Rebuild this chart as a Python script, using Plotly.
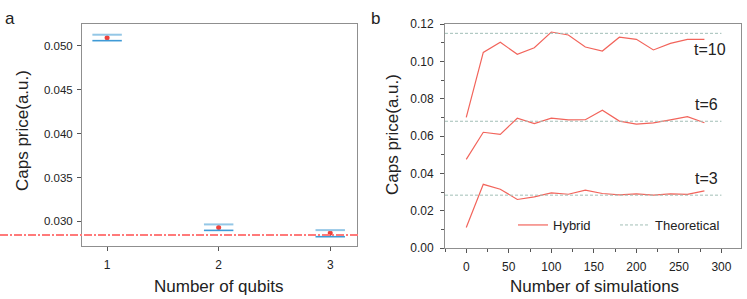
import plotly.graph_objects as go

# ---------- Panel a data ----------
qubits = [1, 2, 3]
a_mean = [0.05094, 0.02932, 0.02867]
a_upper = [0.05128, 0.02966, 0.02901]
a_lower = [0.05060, 0.02898, 0.02826]
a_theory = 0.02844
a_yticks = [0.030, 0.035, 0.040, 0.045, 0.050]

# ---------- Panel b data ----------
sims = [0, 20, 40, 60, 80, 100, 120, 140, 160, 180, 200, 220, 240, 260, 280]
hyb_t10 = [0.0700, 0.1048, 0.1102, 0.1038, 0.1073, 0.1157, 0.1141, 0.1077,
           0.1055, 0.1129, 0.1118, 0.1061, 0.1096, 0.1118, 0.1118]
hyb_t6 = [0.0475, 0.0620, 0.0609, 0.0695, 0.0666, 0.0696, 0.0686, 0.0687,
          0.0738, 0.0680, 0.0664, 0.0670, 0.0686, 0.0704, 0.0671]
hyb_t3 = [0.0110, 0.0341, 0.0315, 0.0260, 0.0274, 0.0295, 0.0288, 0.0310,
          0.0292, 0.0285, 0.0290, 0.0283, 0.0290, 0.0287, 0.0306]
theory_b = {"t=10": 0.1150, "t=6": 0.0679, "t=3": 0.0283}
theory_x = [-25, 300]

W, H = 747, 299
FONT = "Liberation Sans, Arial, sans-serif"

def px_x(p):
    return p / W

def px_y(p):
    return (H - p) / H

fig = go.Figure()

# ---- Panel a ----
cap_half = 0.132
ux, uy, lx, ly = [], [], [], []
for q, u, l in zip(qubits, a_upper, a_lower):
    ux += [q - cap_half, q + cap_half, None]
    uy += [u, u, None]
    lx += [q - cap_half, q + cap_half, None]
    ly += [l, l, None]

fig.add_trace(go.Scatter(
    x=qubits, y=a_mean, mode="markers",
    marker=dict(color="#f0413a", size=5),
    error_y=dict(type="data", symmetric=False,
                 array=[u - m for u, m in zip(a_upper, a_mean)],
                 arrayminus=[m - l for m, l in zip(a_mean, a_lower)],
                 width=0, thickness=1, color="#5a7086"),
    xaxis="x", yaxis="y", showlegend=False))
fig.add_trace(go.Scatter(x=ux, y=uy, mode="lines",
                         line=dict(color="#94c7e6", width=2),
                         xaxis="x", yaxis="y", showlegend=False))
fig.add_trace(go.Scatter(x=lx, y=ly, mode="lines",
                         line=dict(color="#3f9ad6", width=1.6),
                         xaxis="x", yaxis="y", showlegend=False))

# ---- Panel b ----
first = True
for name, ser in [("t=10", hyb_t10), ("t=6", hyb_t6), ("t=3", hyb_t3)]:
    fig.add_trace(go.Scatter(x=sims, y=ser, mode="lines", name="Hybrid",
                             legendgroup="h", showlegend=first, legend="legend",
                             line=dict(color="#f2645b", width=1.2),
                             xaxis="x2", yaxis="y2"))
    first = False
first = True
for name, val in theory_b.items():
    fig.add_trace(go.Scatter(x=theory_x, y=[val, val], mode="lines",
                             name="Theoretical", legendgroup="t",
                             showlegend=first, legend="legend2",
                             line=dict(color="#a2bfb7", width=1, dash="3px,2px"),
                             xaxis="x2", yaxis="y2"))
    first = False

axis_common = dict(showline=True, linecolor="#8f8f8f", linewidth=1,
                   mirror=True, ticks="outside", ticklen=4, tickcolor="#555555",
                   showgrid=False, zeroline=False, automargin=False,
                   tickfont=dict(family=FONT, size=12, color="#222222"))

legend_common = dict(orientation="h", y=px_y(225), xanchor="left",
                     yanchor="middle", bgcolor="rgba(0,0,0,0)",
                     font=dict(family=FONT, size=13, color="#222222"))

fig.update_layout(
    width=W, height=H,
    margin=dict(l=0, r=0, t=0, b=0, autoexpand=False),
    paper_bgcolor="white", plot_bgcolor="white",
    font=dict(family=FONT, color="#222222"),
    xaxis=dict(domain=[px_x(82), px_x(357)], range=[0.775, 3.24],
               tickvals=qubits, ticktext=[str(q) for q in qubits],
               anchor="y", ticklabelstandoff=4, **axis_common),
    yaxis=dict(domain=[px_y(246), px_y(24)], range=[0.0272, 0.0525],
               tickvals=a_yticks, tickformat=".3f", anchor="x", ticklabelstandoff=2,
               **{**axis_common, "tickfont": dict(family=FONT, size=11.5, color="#222222")}),
    xaxis2=dict(domain=[px_x(445), px_x(741)], range=[-25, 323],
                dtick=50, tick0=0, anchor="y2", ticklabelstandoff=4,
                minor=dict(dtick=25, ticks="outside", ticklen=3, tickcolor="#555555"),
                **axis_common),
    yaxis2=dict(domain=[px_y(248), px_y(24)], range=[0, 0.12],
                dtick=0.02, tick0=0, tickformat=".2f", anchor="x2", ticklabelstandoff=4,
                minor=dict(dtick=0.01, ticks="outside", ticklen=3, tickcolor="#555555"),
                **axis_common),
    legend=dict(x=px_x(513), **legend_common),
    legend2=dict(x=px_x(615), **legend_common),
    shapes=[dict(type="line", xref="paper", yref="y",
                 x0=0, x1=px_x(358), y0=a_theory, y1=a_theory,
                 line=dict(color="#ff7a7a", width=2, dash="8px,2px,2px,2px"))],
)

def pa(text, x, y, size=17, angle=0):
    return dict(text=text, x=px_x(x), y=px_y(y), xref="paper", yref="paper",
                xanchor="center", yanchor="middle", showarrow=False,
                textangle=angle, font=dict(size=size))

ann = [
    pa("a", 10, 19),
    pa("b", 375, 19),
    pa("Number of qubits", 218, 286),
    pa("Caps price(a.u.)", 22, 131, angle=-90),
    pa("Number of simulations", 594, 286),
    pa("Caps price(a.u.)", 392, 135, angle=-90),
]
# series labels
for txt, xv, yv in [("t=10", 287, 0.1061), ("t=6", 282, 0.0767), ("t=3", 282, 0.0371)]:
    ann.append(dict(text=txt, x=xv, y=yv, xref="x2", yref="y2", showarrow=False,
                    xanchor="center", yanchor="middle", font=dict(size=16)))
fig.update_layout(annotations=ann)

fig.write_html("out.html", config={"displayModeBar": False},
               post_script="document.body.style.margin='0';document.body.style.overflow='hidden';")
